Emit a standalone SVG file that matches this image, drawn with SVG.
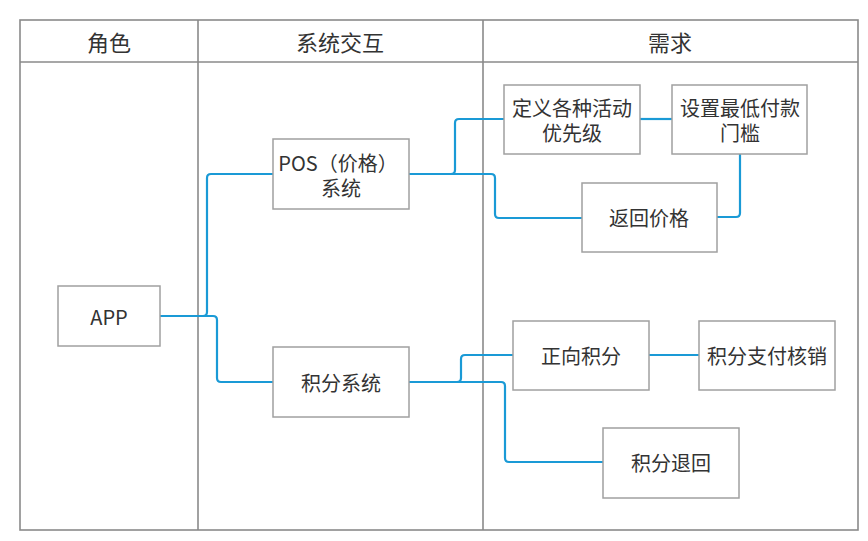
<svg xmlns="http://www.w3.org/2000/svg" width="868" height="541" viewBox="0 0 868 541">
<style>
.tbl{fill:none;stroke:#8a8a8a;stroke-width:1.6}
.box{fill:#fff;stroke:#a0a0a0;stroke-width:1.5}
.t{font-family:"Noto Sans CJK SC","Noto Sans",sans-serif;font-size:20px;fill:#333;text-anchor:middle;dominant-baseline:central}
.h{font-size:22px}
.c{fill:none;stroke:#1a9ad6;stroke-width:2.2;stroke-linejoin:round}
</style>
<rect width="868" height="541" fill="#fff"/>
<g id="table">
<rect class="tbl" x="20" y="20" width="838" height="510"/>
<line class="tbl" x1="20" y1="62" x2="858" y2="62"/>
<line class="tbl" x1="198" y1="20" x2="198" y2="530"/>
<line class="tbl" x1="483" y1="20" x2="483" y2="530"/>
<text class="t h" x="109" y="41">角色</text>
<text class="t h" x="340" y="41">系统交互</text>
<text class="t h" x="670" y="41">需求</text>
</g>
<g id="connectors">
<path class="c" d="M160 316 H203 Q207 316 207 312 V178 Q207 174 211 174 H273"/>
<path class="c" d="M160 316 H213 Q217 316 217 320 V378 Q217 382 221 382 H273"/>
<path class="c" d="M409 174 H451 Q455 174 455 170 V123 Q455 119 459 119 H504"/>
<path class="c" d="M409 174 H491 Q495 174 495 178 V214 Q495 218 499 218 H582"/>
<path class="c" d="M640 119 H672"/>
<path class="c" d="M740 154 V213 Q740 217 736 217 H717"/>
<path class="c" d="M409 382 H457 Q461 382 461 378 V359 Q461 355 465 355 H513"/>
<path class="c" d="M409 382 H501 Q505 382 505 386 V458 Q505 462 509 462 H603"/>
<path class="c" d="M649 355 H699"/>
</g>
<g id="app"><rect class="box" x="58" y="286" width="102" height="60"/><text class="t" x="109" y="316">APP</text></g>
<g id="pos"><rect class="box" x="273" y="139" width="136" height="70"/><text class="t" x="338" y="162">POS（价格）</text><text class="t" x="341" y="187">系统</text></g>
<g id="points"><rect class="box" x="273" y="347" width="136" height="70"/><text class="t" x="341" y="382">积分系统</text></g>
<g id="priority"><rect class="box" x="504" y="85" width="136" height="69"/><text class="t" x="572" y="107">定义各种活动</text><text class="t" x="572" y="132">优先级</text></g>
<g id="threshold"><rect class="box" x="672" y="85" width="135" height="69"/><text class="t" x="740" y="107">设置最低付款</text><text class="t" x="740" y="132">门槛</text></g>
<g id="returnprice"><rect class="box" x="582" y="183" width="135" height="69"/><text class="t" x="649" y="217">返回价格</text></g>
<g id="forward"><rect class="box" x="513" y="321" width="136" height="69"/><text class="t" x="581" y="355">正向积分</text></g>
<g id="writeoff"><rect class="box" x="699" y="321" width="136" height="69"/><text class="t" x="767" y="355">积分支付核销</text></g>
<g id="refund"><rect class="box" x="603" y="428" width="136" height="70"/><text class="t" x="671" y="462">积分退回</text></g>
</svg>
